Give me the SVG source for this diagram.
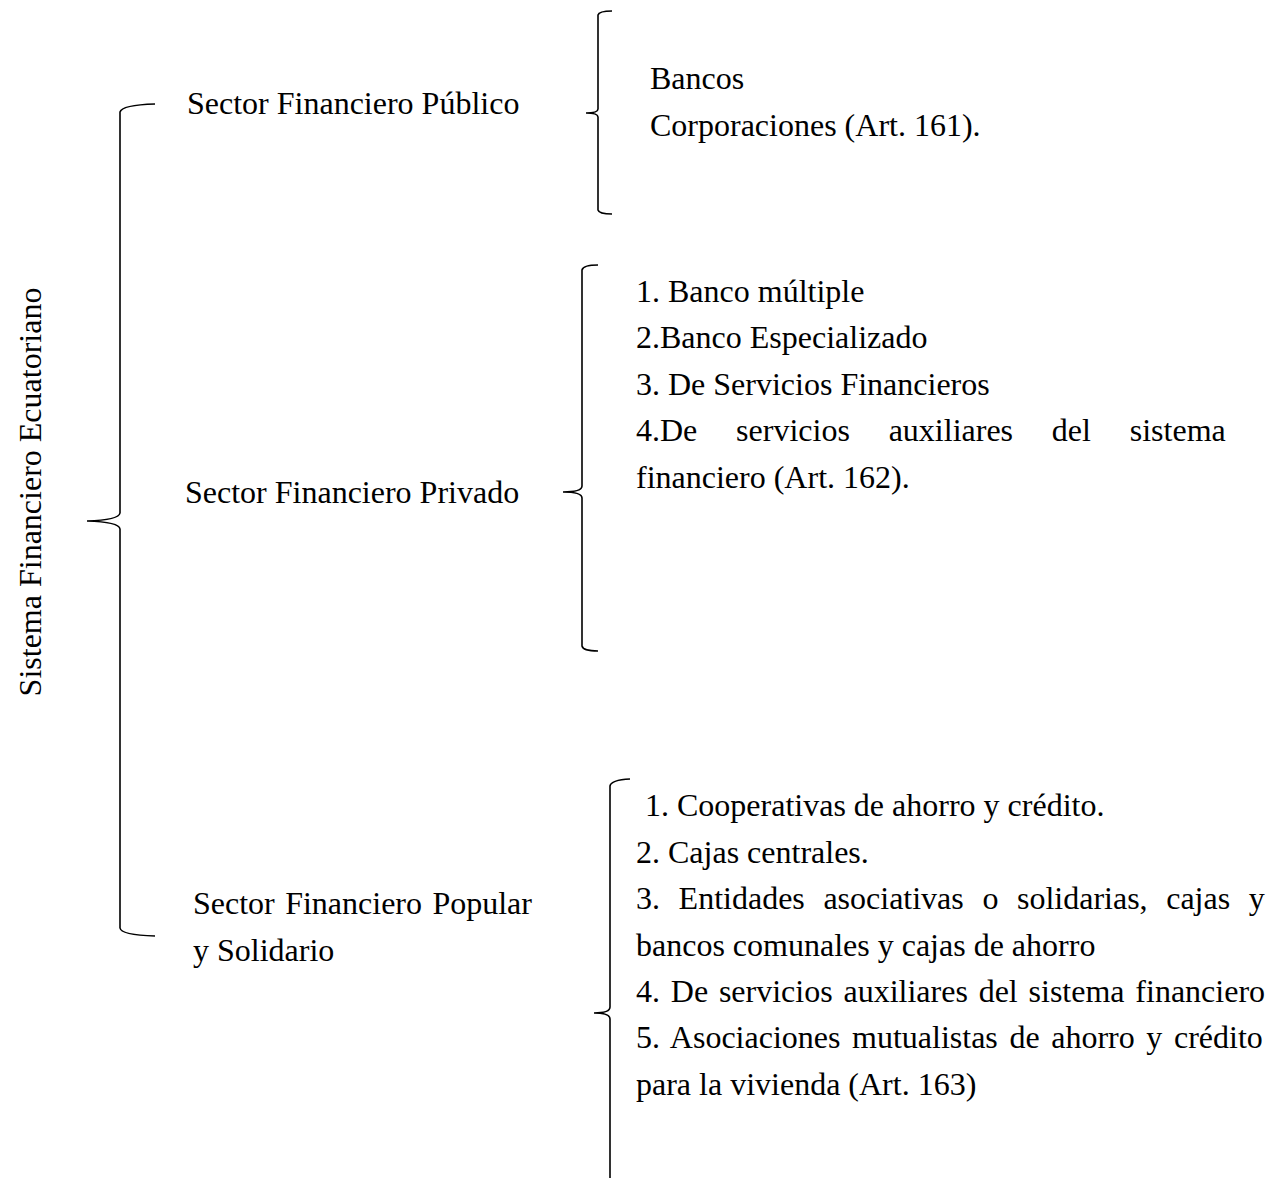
<svg xmlns="http://www.w3.org/2000/svg" width="1277" height="1178" viewBox="0 0 1277 1178">
<style>
text{font-family:"Liberation Serif","Times New Roman",serif;font-size:32px;fill:#000}
.br{fill:none;stroke:#000;stroke-width:1.6}
</style>
<rect width="1277" height="1178" fill="#fff"/>
<g id="connectors">
<path class="br" d="M155,104 Q122,105 120,112 L120,513 Q119,520 87,521 Q119,522 120,529 L120,928 Q121,935 155,936"/>
<path class="br" d="M612,11 Q599,11 598,15 L598,109 Q598,113 586,113 Q598,113 598,117 L598,210 Q599,214 612,214"/>
<path class="br" d="M598,265 Q583,265 582,270 L582,486 Q582,492 563,492 Q582,492 582,498 L582,646 Q583,651 598,651"/>
<path class="br" d="M630,779 Q611,780 610,786 L610,1007 Q610,1013 594,1013 Q610,1013 610,1019 L610,1178"/>
</g>
<g id="root"><text transform="translate(41,492) rotate(-90)" text-anchor="middle">Sistema Financiero Ecuatoriano</text></g>
<g id="publico"><text x="187" y="114">Sector Financiero Público</text></g>
<g id="publico-items">
<text x="650" y="89">Bancos</text>
<text x="650" y="136">Corporaciones (Art. 161).</text>
</g>
<g id="privado"><text x="185" y="503">Sector Financiero Privado</text></g>
<g id="privado-items">
<text x="636" y="302">1. Banco múltiple</text>
<text x="636" y="348">2.Banco Especializado</text>
<text x="636" y="395">3. De Servicios Financieros</text>
<text x="636" y="441" word-spacing="30.8">4.De servicios auxiliares del sistema</text>
<text x="636" y="488">financiero (Art. 162).</text>
</g>
<g id="popular"><text x="193" y="914" word-spacing="2.4">Sector Financiero Popular</text>
<text x="193" y="961">y Solidario</text></g>
<g id="popular-items">
<text x="645" y="816">1. Cooperativas de ahorro y crédito.</text>
<text x="636" y="863">2. Cajas centrales.</text>
<text x="636" y="909" word-spacing="10.6">3. Entidades asociativas o solidarias, cajas y</text>
<text x="636" y="956">bancos comunales y cajas de ahorro</text>
<text x="636" y="1002" word-spacing="2.8">4. De servicios auxiliares del sistema financiero</text>
<text x="636" y="1048" word-spacing="3.6">5. Asociaciones mutualistas de ahorro y crédito</text>
<text x="636" y="1095">para la vivienda (Art. 163)</text>
</g>
</svg>
